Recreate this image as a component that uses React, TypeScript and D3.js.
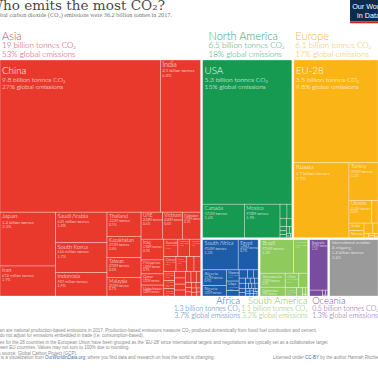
import * as d3 from 'd3';
import { useEffect, useRef } from 'react';

const WIDTH = 378;
const HEIGHT = 370;
const WORLD_TOTAL = 36200; // Mt CO2, 2017
const MAP_TOP = 60;
const MAP_BOTTOM = 296;

// emissions in million tonnes CO2 (2017)
const asiaNames = ['China', 'India', 'Japan', 'Iran', 'Saudi Arabia', 'South Korea', 'Indonesia', 'Thailand', 'Kazakhstan', 'Taiwan', 'Malaysia', 'UAE', 'Vietnam', 'Pakistan', 'Iraq', 'Philippines', 'Qatar', 'Uzbekistan', 'Kuwait', 'Bangladesh', 'Turkmenistan', 'Oman', 'Israel', 'Hong Kong', 'Singapore', 'North Korea', 'Azerbaijan', 'Bahrain', 'Syria', 'Mongolia', 'Jordan', 'Lebanon', 'Myanmar', 'Sri Lanka', 'Laos', 'Yemen', 'Afghanistan', 'Georgia', 'Kyrgyzstan', 'Cambodia', 'Nepal', 'Brunei', 'Tajikistan', 'Armenia'];
const asiaValues = [9839, 2467, 1205, 672, 635, 616, 489, 331, 293, 272, 255, 232, 218, 199, 190, 128, 103, 100, 98, 82, 76, 74, 65, 44, 40, 40, 34, 33, 28, 27, 26, 26, 24, 23, 19, 12, 11, 10, 10, 10, 9, 8, 6, 6];

const northAmericaNames = ['USA', 'Canada', 'Mexico', 'Trinidad and Tobago', 'Cuba', 'Dominican Republic', 'Guatemala', 'Panama', 'Honduras', 'Jamaica', 'Costa Rica', 'El Salvador', 'Nicaragua', 'Haiti', 'Bahamas'];
const northAmericaValues = [5270, 573, 490, 40, 28, 22, 18, 11, 10, 8, 8, 7, 5, 3, 2];

const europeNames = ['EU-28', 'Russia', 'Turkey', 'Ukraine', 'Belarus', 'Serbia', 'Norway', 'Switzerland', 'Bosnia', 'North Macedonia', 'Moldova', 'Albania', 'Iceland', 'Montenegro'];
const europeValues = [3545, 1693, 448, 212, 58, 46, 44, 38, 22, 8, 5, 5, 3.5, 2];

const africaNames = ['South Africa', 'Egypt', 'Algeria', 'Nigeria', 'Morocco', 'Libya', 'Angola', 'Tunisia', 'Sudan', 'Kenya', 'Ghana', 'Ethiopia', 'Tanzania', 'Zimbabwe', "Côte d'Ivoire", 'Senegal', 'Mozambique', 'Cameroon', 'Botswana', 'Equatorial Guinea', 'Benin', 'Zambia', 'Uganda', 'Gabon', 'Mauritius', 'Namibia', 'Madagascar', 'DR Congo', 'Guinea', 'Mali', 'Burkina Faso', 'Niger'];
const africaValues = [456, 255, 159, 105, 61, 51, 30, 29, 21, 17, 14, 14, 11, 10, 10, 9, 8, 7, 7, 7, 7, 5, 5, 4, 4, 4, 4, 3, 3, 3, 3, 2];

const southAmericaNames = ['Brazil', 'Argentina', 'Venezuela', 'Colombia', 'Chile', 'Peru', 'Ecuador', 'Bolivia', 'Paraguay', 'Uruguay', 'Guyana', 'Suriname'];
const southAmericaValues = [476, 204, 150, 94, 85, 55, 40, 21, 7.5, 6.5, 2, 2];

const oceaniaNames = ['Australia', 'New Zealand', 'Papua New Guinea', 'New Caledonia', 'Fiji'];
const oceaniaValues = [414, 34, 7, 5, 2];

const internationalNames = ['International aviation\n& shipping'];
const internationalValues = [1160];

const continents = [
  { name: 'Asia', names: asiaNames, values: asiaValues },
  { name: 'North America', names: northAmericaNames, values: northAmericaValues },
  { name: 'Europe', names: europeNames, values: europeValues },
  { name: 'Africa', names: africaNames, values: africaValues },
  { name: 'South America', names: southAmericaNames, values: southAmericaValues },
  { name: 'Oceania', names: oceaniaNames, values: oceaniaValues },
  { name: 'International', names: internationalNames, values: internationalValues },
];

const notes = [
  'Shown are national production-based emissions in 2017. Production-based emissions measure CO₂ produced domestically from fossil fuel combustion and cement,',
  'and do not adjust for emissions embedded in trade (i.e. consumption-based).',
  "Values for the 28 countries in the European Union have been grouped as the 'EU-28' since international targets and negotiations are typically set as a collaborative target",
  'between EU countries. Values may not sum to 100% due to rounding.',
  'Data source: Global Carbon Project (GCP).',
];

const style: Record<string, { fill: string; text: string; side?: string; anchor?: string; dx?: number }> = {
  Asia: { fill: '#e8392c', text: '#d33a5f', side: 'top', anchor: 'start', dx: 2 },
  'North America': { fill: '#169a52', text: '#34a56b', side: 'top', anchor: 'start', dx: 6 },
  Europe: { fill: '#fbb415', text: '#f4bd3a', side: 'top', anchor: 'start', dx: 1.5 },
  Africa: { fill: '#1d5ca8', text: '#2f6db7', side: 'bottom', anchor: 'end', dx: -18 },
  'South America': { fill: '#8ecb5c', text: '#86c157', side: 'bottom', anchor: 'end', dx: 0 },
  Oceania: { fill: '#7a4c9f', text: '#7c4fa2', side: 'bottom', anchor: 'start', dx: 2.5 },
  International: { fill: '#9a9a9a', text: '#999999' },
};

const SANS = "Lato, 'Liberation Sans', sans-serif";
const NOTE_FONT = "'Liberation Sans', Arial, sans-serif";

const fmtPct = (mt: number) => {
  const p = (mt / WORLD_TOTAL) * 100;
  return `${p >= 10 ? Math.round(p) : p.toFixed(1)}%`;
};

const fmtBillion = (mt: number) => {
  const b = mt / 1000;
  return b >= 10 ? `${Math.round(b)}` : b.toFixed(1);
};

const App = () => {
  const ref = useRef<SVGSVGElement | null>(null);

  useEffect(() => {
    if (!ref.current) return;
    const svg = d3.select(ref.current);
    svg.selectAll('*').remove();

    const contNode = (i: number) => ({
      name: continents[i].name,
      continent: true,
      children: continents[i].names.map((n, j) => ({ name: n, value: continents[i].values[j] })),
    });

    const data = {
      name: 'World',
      children: [
        contNode(0),
        {
          name: 'rest',
          children: [
            { name: 'top', children: [contNode(1), contNode(2)] },
            { name: 'bottom', children: [3, 4, 5, 6].map(contNode) },
          ],
        },
      ],
    };

    const root = d3.hierarchy<any>(data).sum((d: any) => d.value ?? 0);

    // continents are squarified, the grouping above them is sliced
    const tile = (node: any, x0: number, y0: number, x1: number, y1: number) => {
      if (node.data.continent) d3.treemapSquarify(node, x0, y0, x1, y1);
      else d3.treemapSliceDice(node, x0, y0, x1, y1);
    };

    d3.treemap<any>()
      .size([WIDTH, MAP_BOTTOM - MAP_TOP])
      .tile(tile as any)
      .paddingInner((n: any) => (n.data.continent ? 0 : 2))(root);

    const map = svg.append('g').attr('transform', `translate(0,${MAP_TOP})`);
    const leaves = root.leaves() as any[];

    map.selectAll('rect.cell')
      .data(leaves)
      .join('rect')
      .attr('class', 'cell')
      .attr('x', d => d.x0)
      .attr('y', d => d.y0)
      .attr('width', d => d.x1 - d.x0)
      .attr('height', d => d.y1 - d.y0)
      .attr('fill', d => style[d.parent.data.name].fill)
      .attr('stroke', 'rgba(255,255,255,0.55)')
      .attr('stroke-width', 0.6);

    const sizeScale = d3.scaleLog().domain([50, 2500]).range([3.5, 7]).clamp(true);

    leaves.forEach((d, i) => {
      const w = d.x1 - d.x0;
      const h = d.y1 - d.y0;
      if (w < 9 || h < 7) return;
      const mt = d.data.value;
      const cont = d.parent.data.name;
      const hero = mt >= 3000;
      const nameLines: string[] = d.data.name.split('\n');
      let amount: string;
      if (mt >= 1000) amount = `${fmtBillion(mt)} billion tonnes${hero ? ' CO₂' : ''}`;
      else if (cont === 'Asia' && mt >= 400) amount = `${Math.round(mt)} million tonnes`;
      else amount = `${Math.round(mt)}M tonnes`;
      const detailLines = [amount, hero ? `${fmtPct(mt)} global emissions` : fmtPct(mt)];

      let nameSize = hero ? 9.8 : sizeScale(mt);
      let detailSize = nameSize * 0.68;
      const avail = w - 3;
      const nameW = d3.max(nameLines, l => l.length * 0.48 * nameSize) || 1;
      const detailW = d3.max(detailLines, l => l.length * 0.48 * detailSize) || 1;
      nameSize *= Math.min(1, avail / nameW);
      detailSize *= Math.min(1, avail / detailW);

      const clipId = `clip-${i}`;
      map.append('clipPath').attr('id', clipId)
        .append('rect')
        .attr('x', d.x0).attr('y', d.y0).attr('width', w).attr('height', h);

      const lg = map.append('g').attr('clip-path', `url(#${clipId})`)
        .attr('font-family', SANS).attr('font-weight', 300).attr('fill', '#fff');

      const pad = hero ? 6.5 : 1.6;
      const limit = d.y1 - 0.4;
      let y = d.y0 + pad + nameSize * 0.72;
      nameLines.forEach((l, k) => {
        if (k > 0) y += nameSize * 1.05;
        if (y > limit) return;
        lg.append('text').attr('x', d.x0 + 2).attr('y', y).attr('font-size', nameSize).text(l);
      });
      y += detailSize * 1.25;
      detailLines.forEach((l, k) => {
        if (k > 0) y += detailSize * 1.08;
        if (y > limit) return;
        lg.append('text').attr('x', d.x0 + 2).attr('y', y).attr('font-size', detailSize).text(l);
      });
    });

    // continent labels, above or below their block
    const contNodes = root.descendants().filter((n: any) => n.data.continent) as any[];
    contNodes.forEach(n => {
      const s = style[n.data.name];
      if (!s.side) return;
      const total = n.value;
      const top = s.side === 'top';
      const x = s.anchor === 'end' ? n.x1 + (s.dx || 0) : n.x0 + (s.dx || 0);
      const nameSize = top ? 11 : 9.5;
      const subSize = top ? 8 : 7;
      const ys = top
        ? [MAP_TOP + n.y0 - 20.5, MAP_TOP + n.y0 - 11.7, MAP_TOP + n.y0 - 3.4]
        : [MAP_TOP + n.y1 + 8, MAP_TOP + n.y1 + 15, MAP_TOP + n.y1 + 21.6];
      const lines = [n.data.name, `${fmtBillion(total)} billion tonnes CO₂`, `${fmtPct(total)} global emissions`];
      lines.forEach((l, k) => {
        svg.append('text')
          .attr('x', x).attr('y', ys[k])
          .attr('text-anchor', s.anchor || 'start')
          .attr('font-family', SANS).attr('font-weight', 300)
          .attr('font-size', k === 0 ? nameSize : subSize)
          .attr('fill', s.text)
          .text(l);
      });
    });

    // title
    svg.append('text').attr('x', -11).attr('y', 10)
      .attr('font-family', "'DejaVu Serif', serif").attr('font-size', 13.6)
      .attr('fill', '#4a4a4a').text('Who emits the most CO₂?');
    svg.append('text').attr('x', -9).attr('y', 16.8)
      .attr('font-family', "'Liberation Serif', serif").attr('font-size', 6.2)
      .attr('fill', '#777').text('Global carbon dioxide (CO₂) emissions were 36.2 billion tonnes in 2017.');

    // logo
    const logo = svg.append('g');
    logo.append('rect').attr('x', 350).attr('y', 0).attr('width', 40).attr('height', 21.5).attr('fill', '#0d2a4f');
    logo.append('rect').attr('x', 350).attr('y', 21.5).attr('width', 40).attr('height', 1.8).attr('fill', '#ce261e');
    logo.append('text').attr('x', 368.5).attr('y', 8.6).attr('text-anchor', 'middle')
      .attr('font-family', NOTE_FONT).attr('font-size', 7.2).attr('fill', '#fff').text('Our World');
    logo.append('text').attr('x', 368.5).attr('y', 17.8).attr('text-anchor', 'middle')
      .attr('font-family', NOTE_FONT).attr('font-size', 7.2).attr('fill', '#fff').text('in Data');

    // notes
    const noteY = [332, 337, 343.8, 348.5, 354.5];
    notes.forEach((t, k) => {
      svg.append('text').attr('x', -9).attr('y', noteY[k])
        .attr('font-family', NOTE_FONT).attr('font-size', 4.5).attr('fill', '#8c8c8c').text(t);
    });
    const src = svg.append('text').attr('x', -9).attr('y', 359.2)
      .attr('font-family', NOTE_FONT).attr('font-size', 4.5).attr('fill', '#8c8c8c');
    src.append('tspan').text('This is a visualization from ');
    src.append('tspan').attr('fill', '#3b6db3').text('OurWorldinData.org');
    src.append('tspan').text(', where you find data and research on how the world is changing.');
    const lic = svg.append('text').attr('x', 273).attr('y', 359.2)
      .attr('font-family', NOTE_FONT).attr('font-size', 4.5).attr('fill', '#8c8c8c');
    lic.append('tspan').text('Licensed under ');
    lic.append('tspan').attr('fill', '#3b6db3').text('CC-BY');
    lic.append('tspan').text(' by the author Hannah Ritchie.');
  }, []);

  return (
    <svg
      ref={ref}
      width={WIDTH}
      height={HEIGHT}
      style={{ position: 'absolute', left: 0, top: 0, background: '#fff', overflow: 'hidden' }}
    />
  );
};

export default App;
